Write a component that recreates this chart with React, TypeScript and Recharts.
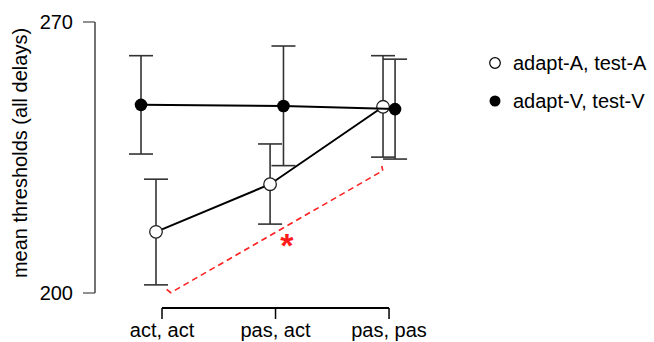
import React from 'react';
import {
  ComposedChart,
  Scatter,
  XAxis,
  YAxis,
  ErrorBar,
  ReferenceLine,
  ReferenceDot,
  Legend,
} from 'recharts';

// Categories (x positions 1, 2, 3)
const categories = ['act, act', 'pas, act', 'pas, pas'];
const categoryTicks = [1, 2, 3];
const yTicks = [200, 270];

// adapt-A, test-A (open circles)
const openX = [0.947, 1.952, 2.947];
const openY = [215.8, 228.1, 248.1];
const openErr: [number, number][] = [
  [13.7, 13.6],
  [10.3, 10.4],
  [13.0, 13.2],
];

// adapt-V, test-V (filled circles)
const filledX = [0.815, 2.07, 3.053];
const filledY = [248.6, 248.3, 247.5];
const filledErr: [number, number][] = [
  [12.7, 12.7],
  [15.4, 15.5],
  [12.9, 12.9],
];

// significance bracket (data coordinates)
const bracketX = [1.041, 1.077, 2.945, 2.936];
const bracketY = [200.96, 200.08, 231.6, 232.8];
const starX = 2.101;
const starY = 212.45;

const legendLabels = ['adapt-A, test-A', 'adapt-V, test-V'];

const X_DOMAIN: [number, number] = [0.4097, 3.537];
const Y_DOMAIN: [number, number] = [196.13, 270];

const openData = openX.map((x, i) => ({ x, y: openY[i], err: openErr[i] }));
const filledData = filledX.map((x, i) => ({ x, y: filledY[i], err: filledErr[i] }));
const bracketData = bracketX.map((x, i) => ({ x, y: bracketY[i] }));

const FONT = '"Liberation Sans", Arial, sans-serif';

const OpenDot = (p: any) => (
  <circle cx={p.cx} cy={p.cy} r={6.3} fill="#fff" stroke="#222" strokeWidth={1.3} />
);
const FilledDot = (p: any) => <circle cx={p.cx} cy={p.cy} r={6.3} fill="#000" />;
const NoDot = () => <g />;

const LegendContent = () => (
  <svg width={174} height={80} style={{ fontFamily: FONT }}>
    <circle cx={15} cy={23} r={5.3} fill="#fff" stroke="#000" strokeWidth={1.2} />
    <text x={33} y={30} fontSize={20} fill="#000">
      {legendLabels[0]}
    </text>
    <circle cx={15} cy={61} r={5.5} fill="#000" />
    <text x={33} y={68} fontSize={20} fill="#000">
      {legendLabels[1]}
    </text>
  </svg>
);

export default function App() {
  return (
    <div style={{ position: 'absolute', left: 0, top: 0, fontFamily: FONT }}>
      <ComposedChart
        width={654}
        height={342}
        margin={{ top: 22, right: 204, bottom: 0, left: 0 }}
      >
        <XAxis
          dataKey="x"
          type="number"
          domain={X_DOMAIN}
          allowDataOverflow
          ticks={categoryTicks}
          tickFormatter={(v: number) => categories[Math.round(v) - 1] ?? ''}
          axisLine={false}
          tickLine={{ stroke: '#000', strokeWidth: 1.5 }}
          tickSize={11}
          tickMargin={4}
          height={34}
          tick={{ fill: '#000', fontSize: 20, fontFamily: FONT }}
          interval={0}
        />
        <YAxis
          dataKey="y"
          type="number"
          domain={Y_DOMAIN}
          allowDataOverflow
          ticks={yTicks}
          axisLine={false}
          tickLine={{ stroke: '#555', strokeWidth: 1.3 }}
          tickSize={12}
          tickMargin={10}
          width={95}
          tick={{ fill: '#000', fontSize: 20, fontFamily: FONT }}
          interval={0}
          label={{
            value: 'mean thresholds (all delays)',
            angle: -90,
            position: 'insideLeft',
            offset: 0,
            fill: '#000',
            fontSize: 20,
            fontFamily: FONT,
            dx: 20,
            dy: -12,
            style: { textAnchor: 'middle' },
          }}
        />
        {/* y axis spine between 200 and 270 */}
        <ReferenceLine
          segment={[
            { x: X_DOMAIN[0], y: yTicks[0] },
            { x: X_DOMAIN[0], y: yTicks[1] },
          ]}
          stroke="#444"
          strokeWidth={1.5}
          ifOverflow="visible"
        />
        {/* x axis spine between first and last category */}
        <ReferenceLine
          segment={[
            { x: categoryTicks[0], y: Y_DOMAIN[0] },
            { x: categoryTicks[2], y: Y_DOMAIN[0] },
          ]}
          stroke="#000"
          strokeWidth={2}
          ifOverflow="visible"
        />
        <Scatter
          data={bracketData}
          dataKey="y"
          line={{ stroke: '#ff2020', strokeWidth: 1.6, strokeDasharray: '6 4', fill: 'none' }}
          lineType="joint"
          shape={NoDot}
          isAnimationActive={false}
        />
        <Scatter
          data={openData}
          dataKey="y"
          line={{ stroke: '#000', strokeWidth: 2, fill: 'none' }}
          lineType="joint"
          shape={OpenDot}
          isAnimationActive={false}
        >
          <ErrorBar dataKey="err" direction="y" width={12} stroke="#333" strokeWidth={1.6} isAnimationActive={false} />
        </Scatter>
        <Scatter
          data={filledData}
          dataKey="y"
          line={{ stroke: '#000', strokeWidth: 2, fill: 'none' }}
          lineType="joint"
          shape={FilledDot}
          isAnimationActive={false}
        >
          <ErrorBar dataKey="err" direction="y" width={12} stroke="#333" strokeWidth={1.6} isAnimationActive={false} />
        </Scatter>
        <ReferenceDot
          x={starX}
          y={starY}
          r={0}
          stroke="none"
          ifOverflow="visible"
          label={{ value: '*', position: 'center', fill: '#ff1a1a', fontSize: 34, fontWeight: 'bold', fontFamily: FONT }}
        />
        <Legend
          layout="vertical"
          align="center"
          verticalAlign="middle"
          content={<LegendContent />}
          wrapperStyle={{ left: 480, top: 40, width: 174, height: 80 }}
        />
      </ComposedChart>
    </div>
  );
}
